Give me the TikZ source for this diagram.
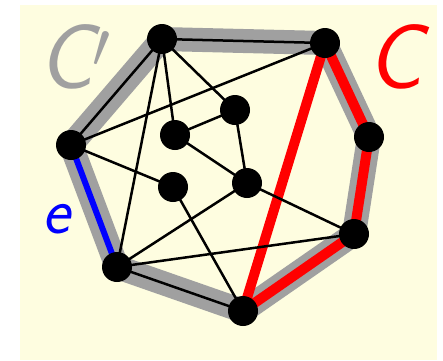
\RequirePackage{fix-cm}
\documentclass[tikz,border=0pt]{standalone}
\usepackage{tikz}
\usetikzlibrary{positioning}
\definecolor{bgcolor}{RGB}{254,253,224}
\definecolor{bandcolor}{RGB}{160,160,160}
\definecolor{ccolor}{RGB}{255,0,0}
\definecolor{ecolor}{RGB}{0,0,255}

\begin{document}
\begin{tikzpicture}[x=1pt, y=-1pt,
    vtx/.style={circle, fill=black, inner sep=0pt, minimum size=30pt},
    band/.style={line width=24pt, draw=bandcolor, line join=round},
    cpath/.style={line width=10pt, draw=ccolor, line join=round},
    epath/.style={line width=6pt, draw=ecolor},
    edge/.style={line width=2.5pt, draw=black},
    lbl/.style={inner sep=0pt, anchor=base west,
       font=\fontsize{92}{92}\selectfont\sffamily\itshape}
  ]
    \useasboundingbox (0,0) rectangle (443,360);
    \fill[bgcolor] (20,5) rectangle (437,360);

    % Outer vertices
    \coordinate (A) at (162,39);
    \coordinate (B) at (325,43);
    \coordinate (C) at (369,137);
    \coordinate (D) at (354,234);
    \coordinate (E) at (243,311);
    \coordinate (F) at (117,267);
    \coordinate (G) at (71,145);
    % Inner vertices
    \coordinate (H) at (235,110);
    \coordinate (I) at (175,135);
    \coordinate (J) at (173,187);
    \coordinate (K) at (247,183);

    % Cycle C' (grey band)
    \draw[band] (A) -- (B) -- (C) -- (D) -- (E) -- (F) -- (G) -- cycle;

    % Cycle C (red)
    \draw[cpath] (B) -- (C) -- (D) -- (E) -- cycle;

    % Edge e
    \draw[epath] (G) -- (F);

    % Remaining edges
    \foreach \u/\v in {A/B, E/F, G/A, A/I, A/H, A/F, G/B, G/J, I/H,
                       I/K, H/K, K/D, K/F, F/D, J/E}
      \draw[edge] (\u) -- (\v);

    % Vertices
    \foreach \p in {A,B,C,D,E,F,G,H,I,J,K}
      \node[vtx] (v\p) at (\p) {};

    % Labels
    \node[lbl, text=bandcolor] (lblCp) at (38,88)
      {C\hspace{-1pt}\raisebox{-13pt}{$'$}};
    \node[lbl, text=ccolor] (lblC) at (367,88) {C};
    \node[lbl, text=ecolor, font=\fontsize{66}{66}\selectfont\sffamily\itshape]
      (lble) at (42,233) {e};
  \end{tikzpicture}
\end{document}
